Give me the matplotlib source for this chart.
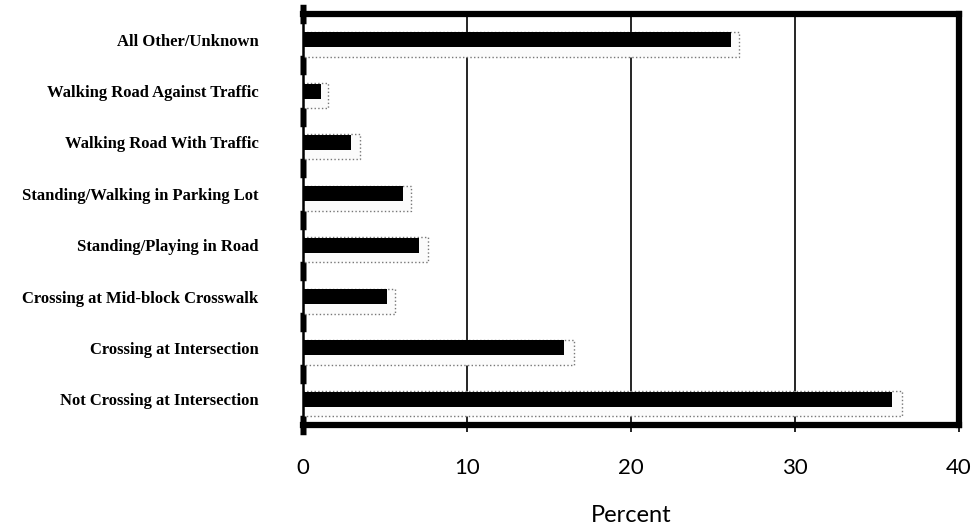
import matplotlib
matplotlib.use("Agg")
import matplotlib.pyplot as plt
import numpy as np

categories = [
    "All Other/Unknown",
    "Walking Road Against Traffic",
    "Walking Road With Traffic",
    "Standing/Walking in Parking Lot",
    "Standing/Playing in Road",
    "Crossing at Mid-block Crosswalk",
    "Crossing at Intersection",
    "Not Crossing at Intersection",
]
black_values = [26.1, 1.1, 2.9, 6.1, 7.1, 5.1, 15.9, 35.9]
gray_values = [26.6, 1.5, 3.5, 6.6, 7.6, 5.6, 16.5, 36.5]
x_ticks = [0, 10, 20, 30, 40]

fig = plt.figure(figsize=(9.73, 5.32), dpi=100)
ax = fig.add_axes([303 / 973, 107 / 532, 656 / 973, 411 / 532])

y = np.arange(len(categories))
# lighter, outlined series behind
ax.barh(y + 0.088, gray_values, height=0.486, color="#fbfbfb",
        edgecolor="#777777", linestyle=":", linewidth=1.0, zorder=2)
# solid black series in front
ax.barh(y, black_values, height=0.29, color="black", zorder=3)

ax.set_xlim(0, 40)
ax.set_ylim(len(categories) - 0.5, -0.5)
ax.set_xticks(x_ticks)
ax.set_xticklabels([str(t) for t in x_ticks], family="Lato", fontsize=16)
ax.set_yticks(y)
ax.set_yticklabels(categories, family="Liberation Serif", fontweight="bold",
                   fontsize=12)
ax.set_yticks(np.arange(len(categories) + 1) - 0.5, minor=True)

for gx in [10, 20, 30]:
    ax.axvline(gx, color="black", linewidth=1.2, zorder=1)

ax.tick_params(axis="y", which="major", length=0, pad=32)
ax.tick_params(axis="y", which="minor", length=4.5, width=14,
               direction="inout", color="black")
ax.tick_params(axis="x", which="major", length=5, width=1.2, pad=19,
               direction="out")

for side in ["top", "right", "bottom"]:
    ax.spines[side].set_linewidth(4.5)
ax.spines["left"].set_linewidth(1.8)

ax.set_xlabel("Percent", family="Lato", fontsize=17, labelpad=19)

fig.savefig("out.png", dpi=100)
